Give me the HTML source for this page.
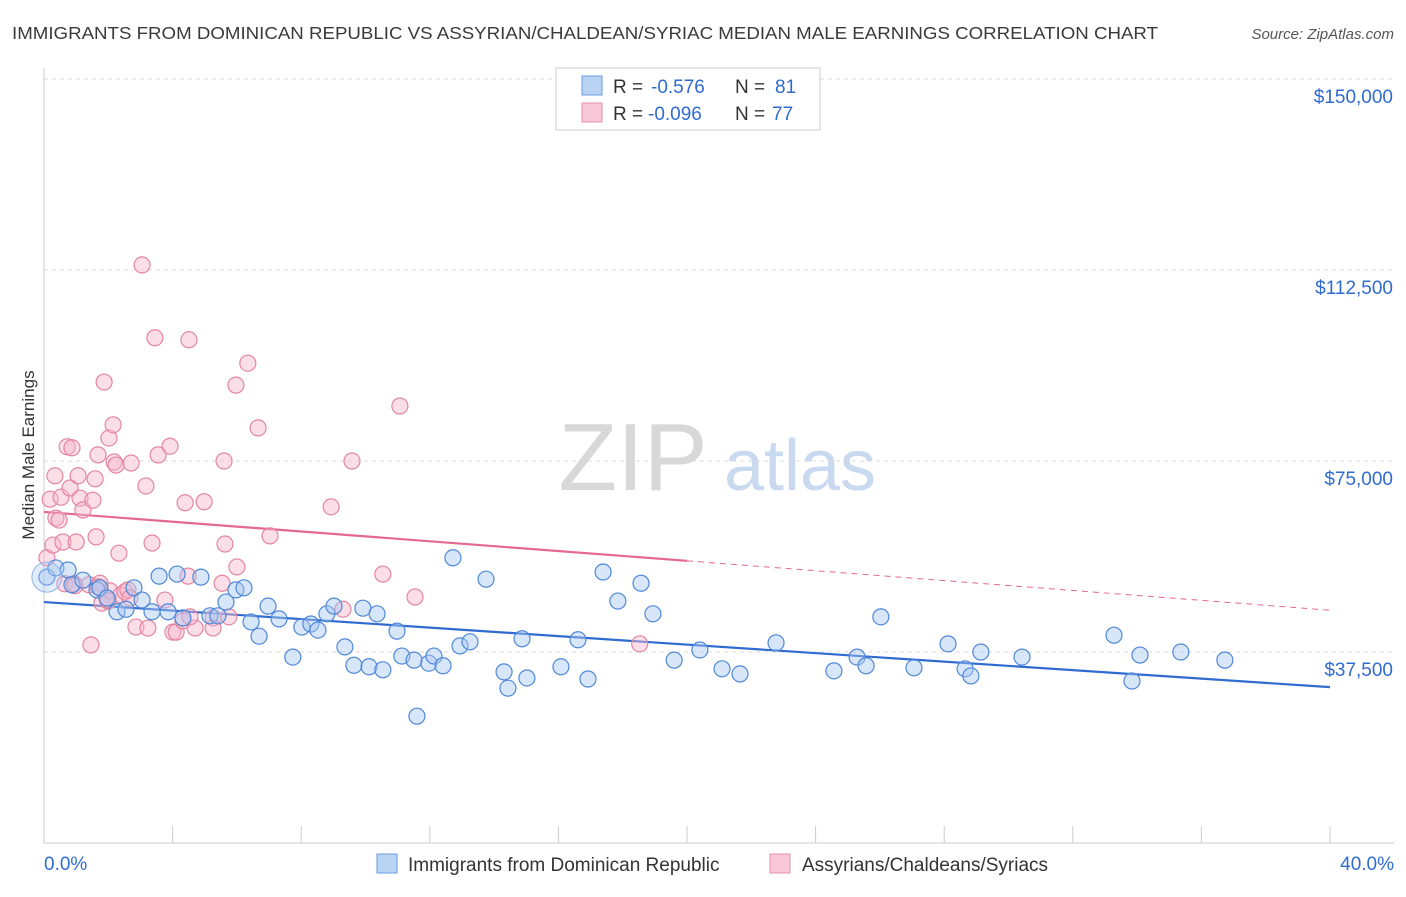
<!DOCTYPE html>
<html><head><meta charset="utf-8">
<style>
body{margin:0;background:#fff;font-family:"Liberation Sans",sans-serif;}
svg text{font-family:"Liberation Sans",sans-serif;}
</style></head>
<body>
<svg id="chart" width="1406" height="892" viewBox="0 0 1406 892" xmlns="http://www.w3.org/2000/svg">
<text x="12" y="39" font-size="17.5" fill="#3a3a3a" textLength="1146" lengthAdjust="spacingAndGlyphs">IMMIGRANTS FROM DOMINICAN REPUBLIC VS ASSYRIAN/CHALDEAN/SYRIAC MEDIAN MALE EARNINGS CORRELATION CHART</text>
<text x="1394" y="39" font-size="15" fill="#555" font-style="italic" text-anchor="end">Source: ZipAtlas.com</text>
<g id="watermark">
<text x="633" y="490" font-size="96" fill="#d8d8d8" font-family="Liberation Serif, serif" text-anchor="middle">ZIP</text>
<text x="800" y="490" font-size="72" fill="#c9daf0" text-anchor="middle">atlas</text>
</g>
<g id="grid"></g>
<g id="axes"></g>
<g id="trends"></g>
<g id="points"></g>
<text transform="translate(34,455) rotate(-90)" font-size="17" fill="#333" text-anchor="middle">Median Male Earnings</text>
<g>
<rect x="556" y="68" width="264" height="62" fill="#fff" stroke="#ccc"/>
<rect x="582" y="76" width="20" height="19" fill="#b9d3f5" stroke="#6a9de0"/>
<rect x="582" y="103" width="20" height="19" fill="#f9c8d8" stroke="#e98fae"/>
<text x="613" y="93" font-size="19" fill="#333">R = </text>
<text x="651" y="93" font-size="19" fill="#2f6bd0">-0.576</text>
<text x="735" y="93" font-size="19" fill="#333">N = </text>
<text x="775" y="93" font-size="19" fill="#2f6bd0">81</text>
<text x="613" y="120" font-size="19" fill="#333">R = </text>
<text x="648" y="120" font-size="19" fill="#2f6bd0">-0.096</text>
<text x="735" y="120" font-size="19" fill="#333">N = </text>
<text x="772" y="120" font-size="19" fill="#2f6bd0">77</text>
</g>
<g>
<rect x="377" y="854" width="20" height="19" fill="#b9d3f5" stroke="#6a9de0"/>
<text x="408" y="871" font-size="19" fill="#333">Immigrants from Dominican Republic</text>
<rect x="770" y="854" width="20" height="19" fill="#f9c8d8" stroke="#e98fae"/>
<text x="802" y="871" font-size="19" fill="#333">Assyrians/Chaldeans/Syriacs</text>
</g>
</svg>
<script>
const yTicks=[37500,75000,112500,150000];
const yTickLabels=["$37,500","$75,000","$112,500","$150,000"];
const xTicks=[0,4,8,12,16,20,24,28,32,36,40];
const xEndLabels=["0.0%","40.0%"];
const blueX=[0.09,0.37,0.75,0.87,1.21,1.65,1.74,1.96,2.27,2.55,2.80,3.05,3.36,3.58,3.86,4.14,4.32,4.88,5.16,5.41,5.66,5.97,6.22,6.44,6.69,6.97,7.31,7.74,8.02,8.30,8.52,8.80,9.02,9.36,9.64,9.92,10.11,10.36,10.54,10.98,11.13,11.51,11.60,11.97,12.13,12.41,12.72,12.94,13.25,13.75,14.31,14.43,14.87,15.02,16.08,16.61,16.92,17.39,17.85,18.57,18.94,19.60,20.40,21.09,21.65,22.77,24.57,25.29,25.57,26.03,27.06,28.12,28.65,28.83,29.14,30.42,33.28,33.84,34.09,35.36,36.73];
const blueY=[52.2,54.0,53.6,50.7,51.6,49.7,50.1,48.1,45.4,45.9,50.1,47.7,45.4,52.4,45.4,52.8,44.2,52.2,44.6,44.6,47.3,49.7,50.1,43.4,40.6,46.5,44.0,36.5,42.4,43.0,41.8,45.0,46.5,38.5,34.9,46.1,34.6,45.0,34.0,41.6,36.7,35.9,24.9,35.3,36.7,34.8,56.0,38.7,39.5,51.8,33.6,30.4,40.1,32.4,34.6,39.9,32.2,53.2,47.5,51.0,45.0,35.9,37.9,34.2,33.2,39.3,33.8,36.5,34.8,44.4,34.4,39.1,34.2,32.8,37.5,36.5,40.8,31.8,36.9,37.5,35.9];
const pinkX=[0.09,0.19,0.28,0.34,0.37,0.47,0.53,0.59,0.65,0.72,0.81,0.87,0.93,1.00,1.06,1.12,1.21,1.40,1.46,1.52,1.59,1.62,1.68,1.74,1.80,1.87,1.99,2.02,2.05,2.15,2.18,2.24,2.33,2.39,2.52,2.61,2.71,2.86,3.05,3.17,3.23,3.36,3.45,3.55,3.76,3.92,4.01,4.11,4.32,4.39,4.48,4.51,4.70,4.98,5.26,5.26,5.54,5.60,5.63,5.75,5.97,6.00,6.34,6.66,7.03,8.93,9.30,9.58,10.54,11.07,11.54,18.53,1.68,4.54,2.67,1.99,0.96];
const pinkY=[56.0,67.5,58.5,72.1,63.8,63.4,67.9,59.1,50.9,77.8,69.7,77.6,50.9,59.1,72.1,67.7,65.4,50.7,38.9,67.3,71.5,60.1,76.2,51.0,47.1,90.5,47.5,79.5,49.5,82.1,74.8,74.2,56.9,48.7,49.3,49.7,74.6,42.4,113.5,70.1,42.2,58.9,99.2,76.2,47.7,77.9,41.4,41.4,43.6,66.8,52.4,98.8,42.2,67.0,44.2,42.2,51.0,75.0,58.7,44.4,89.9,54.2,94.2,81.5,60.3,66.0,45.9,75.0,52.8,85.8,48.3,39.1,50.3,44.4,48.1,47.7,50.5];
const blueTrendX=[0,40];
const blueTrendY=[47.3,30.6];
const pinkTrendX=[0,20,40];
const pinkTrendY=[65.0,55.4,45.7];

const NS="http://www.w3.org/2000/svg";
const X0=44,X1=1330,YB=843,YPX=191/37.5;
const sx=v=>X0+(v/40)*(X1-X0);
const sy=v=>YB-v*YPX;
function mk(tag,attrs,parent){const e=document.createElementNS(NS,tag);for(const k in attrs)e.setAttribute(k,attrs[k]);parent.appendChild(e);return e;}
const grid=document.getElementById('grid'),axes=document.getElementById('axes'),trends=document.getElementById('trends'),pts=document.getElementById('points');
yTicks.forEach((t,i)=>{
  const y=sy(t/1000);
  const l=mk('line',{x1:X0,x2:1394,y1:y,y2:y,stroke:'#d9d9d9','stroke-dasharray':'4,4'},grid);
  
  
  const tx=mk('text',{x:1393,y:y+24,'font-size':19,fill:'#2f6bd0','text-anchor':'end'},axes);
  tx.textContent=yTickLabels[i];
  
  
});
const topLine=mk('line',{x1:X0,x2:1394,y1:79,y2:79,stroke:'#d9d9d9','stroke-dasharray':'4,4'},grid);


const ya=mk('line',{x1:X0,x2:X0,y1:68,y2:YB,stroke:'#ccc'},axes);


const xa=mk('line',{x1:X0,x2:1394,y1:YB,y2:YB,stroke:'#ccc'},axes);


xTicks.forEach(t=>{
  const tk=mk('line',{x1:sx(t),x2:sx(t),y1:826,y2:YB,stroke:'#ccc'},axes);
  
  
});
const xl0=mk('text',{x:44,y:870,'font-size':19,fill:'#2f6bd0'},axes);
xl0.textContent=xEndLabels[0];


const xl1=mk('text',{x:1394,y:870,'font-size':19,fill:'#2f6bd0','text-anchor':'end'},axes);
xl1.textContent=xEndLabels[1];



function dots(xs,ys,fill,stroke,name){
  xs.forEach((x,i)=>{
    const c=mk('circle',{cx:sx(x),cy:sy(ys[i]),r:8,fill:fill,'fill-opacity':0.45,stroke:stroke,'stroke-width':1.2},pts);
    
    
  });
}
dots(pinkX,pinkY,'#f7b6cb','#e4869f','point-assyrian');
dots(blueX,blueY,'#a8c8f2','#4f88d8','point-dominican');
const big=mk('circle',{cx:sx(blueX[0]),cy:sy(blueY[0]),r:15,fill:'#a8c8f2','fill-opacity':0.35,stroke:'#8fb4e8','stroke-width':1},pts);



const bt=mk('line',{x1:sx(blueTrendX[0]),y1:sy(blueTrendY[0]),x2:sx(blueTrendX[1]),y2:sy(blueTrendY[1]),stroke:'#2f6bd0','stroke-width':2.2},trends);


const pt1=mk('line',{x1:sx(pinkTrendX[0]),y1:sy(pinkTrendY[0]),x2:sx(pinkTrendX[1]),y2:sy(pinkTrendY[1]),stroke:'#e4688f','stroke-width':2.2},trends);


const pt2=mk('line',{x1:sx(pinkTrendX[1]),y1:sy(pinkTrendY[1]),x2:sx(pinkTrendX[2]),y2:sy(pinkTrendY[2]),stroke:'#e4688f','stroke-width':1,'stroke-dasharray':'6,5'},trends);


</script>
</body></html>
